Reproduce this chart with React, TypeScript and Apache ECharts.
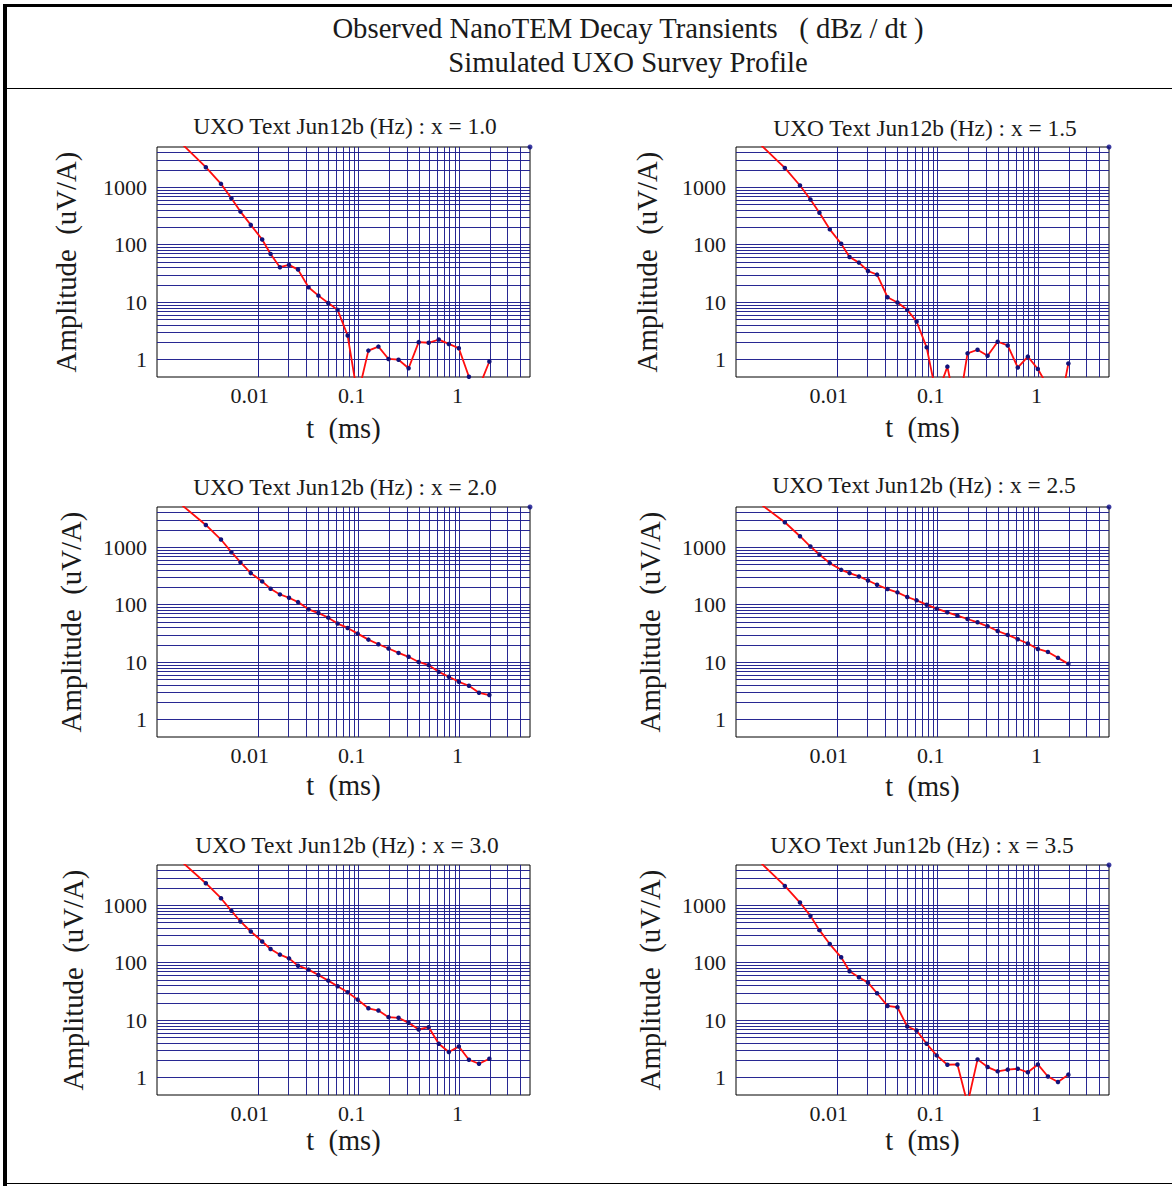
import React, { useEffect, useRef } from "react";
import * as echarts from "echarts";

// ---- data ----
const TIME_MS = [
  0.0015, 0.00305, 0.00431, 0.00547, 0.00672, 0.00851, 0.01104, 0.01337, 0.01656, 0.02037,
  0.02505, 0.0318, 0.0399, 0.0499, 0.0618, 0.0777, 0.0977, 0.1248, 0.157, 0.1977,
  0.2485, 0.3126, 0.3935, 0.4947, 0.6228, 0.7835, 0.9845, 1.24, 1.56, 1.977,
];

const AMP_X10 = [
  7500, 2228, 1141, 644, 376, 221, 123, 69, 40.6, 44.5,
  36.9, 18.2, 13.0, 9.7, 7.35, 2.63, 0.23, 1.44, 1.69, 1.03,
  1.0, 0.71, 2.02, 1.97, 2.24, 1.88, 1.58, 0.505, 0.33, 0.93,
];
const AMP_X15 = [
  7160, 2163, 1069, 611, 359, 185, 104, 61, 48.8, 34.9,
  30.2, 12.2, 9.87, 7.36, 4.62, 1.64, 0.23, 0.757, 0.107, 1.29,
  1.49, 1.17, 2.05, 1.77, 0.73, 1.13, 0.69, 0.34, 0.1, 0.86,
];
const AMP_X20 = [
  6840, 2438, 1359, 819, 549, 354, 254, 189, 151, 132,
  111, 83, 71.6, 59.5, 46.9, 39.4, 31.4, 24.7, 20.5, 17.3,
  14.5, 12.4, 10.1, 8.88, 6.79, 5.57, 4.56, 3.89, 2.94, 2.68,
];
const AMP_X25 = [
  6900, 2716, 1552, 1027, 747, 528, 404, 354, 310, 264,
  222, 187, 164, 136, 119, 100, 85.3, 73.6, 64.4, 56.4,
  49.4, 42.1, 34.9, 29.8, 25.1, 21.1, 17.0, 15.1, 11.9, 9.35,
];
const AMP_X30 = [
  7310, 2410, 1322, 798, 521, 349, 234, 173, 138, 119,
  88.7, 75.7, 61.1, 48.8, 38.9, 30.6, 22.8, 16.1, 14.7, 11.3,
  11.0, 9.0, 6.89, 7.56, 3.89, 2.79, 3.49, 2.05, 1.75, 2.13,
];
const AMP_X35 = [
  7180, 2163, 1112, 653, 368, 211, 124, 70.8, 55.7, 45.0,
  29.4, 17.7, 16.8, 7.76, 6.62, 3.89, 2.44, 1.68, 1.7, 0.35,
  2.08, 1.53, 1.29, 1.38, 1.43, 1.24, 1.7, 1.05, 0.84, 1.13,
];

const PANEL_TITLES = [
  "UXO Text Jun12b (Hz) : x = 1.0",
  "UXO Text Jun12b (Hz) : x = 1.5",
  "UXO Text Jun12b (Hz) : x = 2.0",
  "UXO Text Jun12b (Hz) : x = 2.5",
  "UXO Text Jun12b (Hz) : x = 3.0",
  "UXO Text Jun12b (Hz) : x = 3.5",
];
const PANEL_AMPS = [AMP_X10, AMP_X15, AMP_X20, AMP_X25, AMP_X30, AMP_X35];
// stray marker in the upper-right corner of the frame
const CORNER_POINT = [5, 5000];
const HAS_CORNER_POINT = [true, true, true, true, false, true];

const X_TICKS = [0.01, 0.1, 1];
const X_TICK_LABELS = ["0.01", "0.1", "1"];
const Y_TICKS = [1, 10, 100, 1000];
const Y_TICK_LABELS = ["1", "10", "100", "1000"];

const X_GRID = [
  0.002, 0.003, 0.004, 0.005, 0.006, 0.007, 0.008, 0.009, 0.01,
  0.02, 0.03, 0.04, 0.05, 0.06, 0.07, 0.08, 0.09, 0.1,
  0.2, 0.3, 0.4, 0.5, 0.6, 0.7, 0.8, 0.9, 1,
  2, 3, 4,
];
const Y_GRID = [
  1, 2, 3, 4, 5, 6, 7, 8, 9,
  10, 20, 30, 40, 50, 60, 70, 80, 90,
  100, 200, 300, 400, 500, 600, 700, 800, 900,
  1000, 2000, 3000, 4000,
];

const MAIN_TITLE = "Observed NanoTEM Decay Transients   ( dBz / dt )";
const SUB_TITLE = "Simulated UXO Survey Profile";
const X_NAME = "t  (ms)";
const Y_NAME = "Amplitude  (uV/A)";

// ---- layout ----
const SERIF = "'Liberation Serif', 'Times New Roman', Times, serif";
const TEXT = "#1a1a1a";
const GRID_BLUE = "#1c1c8c";
const COL_LEFT = [157, 736];
const ROW_TOP = [147, 507, 865];
const PW = 373;
const PH = 230;
const TITLE_POS = [
  [345, 126], [925, 128],
  [345, 487], [924, 485],
  [347, 845], [922, 845],
];
const Y_NAME_GAP = [77, 75, 72, 72, 70, 72];
const X_NAME_GAP = [37, 36, 34, 35, 31, 31];
const X_LABEL_SHIFT = [16, 14, 4];

function matchTick(v: number, ticks: number[]): number {
  const lv = Math.log10(v);
  for (let k = 0; k < ticks.length; k++) {
    if (Math.abs(lv - Math.log10(ticks[k])) < 1e-6) return k;
  }
  return -1;
}

function buildOption() {
  const grid: any[] = [];
  const xAxis: any[] = [];
  const yAxis: any[] = [];
  const series: any[] = [];
  const graphic: any[] = [];

  const rich: any = {};
  X_TICK_LABELS.forEach((_, k) => {
    rich["t" + k] = {
      fontSize: 22,
      fontFamily: SERIF,
      color: TEXT,
      padding: [0, X_LABEL_SHIFT[k], 0, 0],
    };
  });

  for (let i = 0; i < 6; i++) {
    const col = i % 2;
    const row = Math.floor(i / 2);
    grid.push({
      left: COL_LEFT[col],
      top: ROW_TOP[row],
      width: PW,
      height: PH,
      show: true,
      borderColor: "#000",
      borderWidth: 1,
      backgroundColor: "#fff",
    });
    xAxis.push({
      type: "log",
      logBase: 10,
      gridIndex: i,
      min: 0.001,
      max: 5,
      axisLine: { show: false },
      axisTick: { show: false },
      splitLine: { show: false },
      minorSplitLine: { show: false },
      axisLabel: {
        margin: 7,
        fontSize: 22,
        fontFamily: SERIF,
        color: TEXT,
        showMinLabel: true,
        showMaxLabel: true,
        rich,
        formatter: (v: number) => {
          const k = matchTick(v, X_TICKS);
          return k < 0 ? "" : "{t" + k + "|" + X_TICK_LABELS[k] + "}";
        },
      },
      name: X_NAME,
      nameLocation: "middle",
      nameGap: X_NAME_GAP[i],
      nameTextStyle: { fontSize: 28.5, fontFamily: SERIF, color: TEXT },
    });
    yAxis.push({
      type: "log",
      logBase: 10,
      gridIndex: i,
      min: 0.5,
      max: 5000,
      axisLine: { show: false },
      axisTick: { show: false },
      splitLine: { show: false },
      axisLabel: {
        margin: 10,
        fontSize: 22,
        fontFamily: SERIF,
        color: TEXT,
        formatter: (v: number) => {
          const k = matchTick(v, Y_TICKS);
          return k < 0 ? "" : Y_TICK_LABELS[k];
        },
      },
      name: Y_NAME,
      nameLocation: "middle",
      nameRotate: 90,
      nameGap: Y_NAME_GAP[i],
      nameTextStyle: { fontSize: 28.8, fontFamily: SERIF, color: TEXT },
    });

    const pts = TIME_MS.map((t, k) => [t, PANEL_AMPS[i][k]]);

    // grid lines (drawn through the axes' scales)
    series.push({
      type: "line",
      xAxisIndex: i,
      yAxisIndex: i,
      data: pts,
      showSymbol: false,
      symbol: "none",
      lineStyle: { opacity: 0 },
      silent: true,
      z: 1,
      markLine: {
        silent: true,
        z: 1,
        symbol: ["none", "none"],
        label: { show: false },
        emphasis: { disabled: true },
        lineStyle: { color: GRID_BLUE, width: 1, type: "solid", opacity: 0.95 },
        data: [
          ...X_GRID.map((v) => ({ xAxis: v })),
          ...Y_GRID.map((v) => ({ yAxis: v })),
        ],
      },
    });

    // observed transient
    series.push({
      type: "line",
      xAxisIndex: i,
      yAxisIndex: i,
      data: pts,
      clip: true,
      symbol: "circle",
      symbolSize: 4.5,
      showSymbol: true,
      showAllSymbol: true,
      itemStyle: { color: "#12127a", borderWidth: 0 },
      lineStyle: { color: "#ff0d0d", width: 1.8 },
      z: 10,
    });

    if (HAS_CORNER_POINT[i]) {
      series.push({
        type: "scatter",
        xAxisIndex: i,
        yAxisIndex: i,
        data: [CORNER_POINT],
        symbol: "circle",
        symbolSize: 5,
        clip: false,
        itemStyle: { color: "#0a0a8a" },
        z: 11,
      });
    }

    graphic.push({
      type: "text",
      x: TITLE_POS[i][0],
      y: TITLE_POS[i][1],
      style: {
        text: PANEL_TITLES[i],
        fontSize: 23.4,
        fontFamily: SERIF,
        fill: TEXT,
        align: "center",
        verticalAlign: "middle",
      },
    });
  }

  // frame
  graphic.push(
    { type: "rect", shape: { x: 3, y: 4, width: 4, height: 1182 }, style: { fill: "#000" } },
    { type: "rect", shape: { x: 3, y: 4, width: 1169, height: 3 }, style: { fill: "#000" } },
    { type: "line", shape: { x1: 7, y1: 88.5, x2: 1172, y2: 88.5 }, style: { stroke: "#000", lineWidth: 1 } },
    { type: "line", shape: { x1: 7, y1: 1183.5, x2: 1172, y2: 1183.5 }, style: { stroke: "#000", lineWidth: 1 } },
    {
      type: "text",
      x: 628,
      y: 28,
      style: { text: MAIN_TITLE, fontSize: 28.7, fontFamily: SERIF, fill: TEXT, align: "center", verticalAlign: "middle" },
    },
    {
      type: "text",
      x: 628,
      y: 62,
      style: { text: SUB_TITLE, fontSize: 28.7, fontFamily: SERIF, fill: TEXT, align: "center", verticalAlign: "middle" },
    }
  );

  return {
    animation: false,
    backgroundColor: "#fff",
    grid,
    xAxis,
    yAxis,
    series,
    graphic,
  };
}

export default function App() {
  const ref = useRef<HTMLDivElement>(null);
  useEffect(() => {
    if (!ref.current) return;
    const chart = echarts.init(ref.current, undefined, { renderer: "svg" });
    chart.setOption(buildOption() as any);
    return () => chart.dispose();
  }, []);
  return (
    <div
      ref={ref}
      style={{ position: "fixed", left: 0, top: 0, width: 1172, height: 1186, background: "#fff" }}
    />
  );
}
